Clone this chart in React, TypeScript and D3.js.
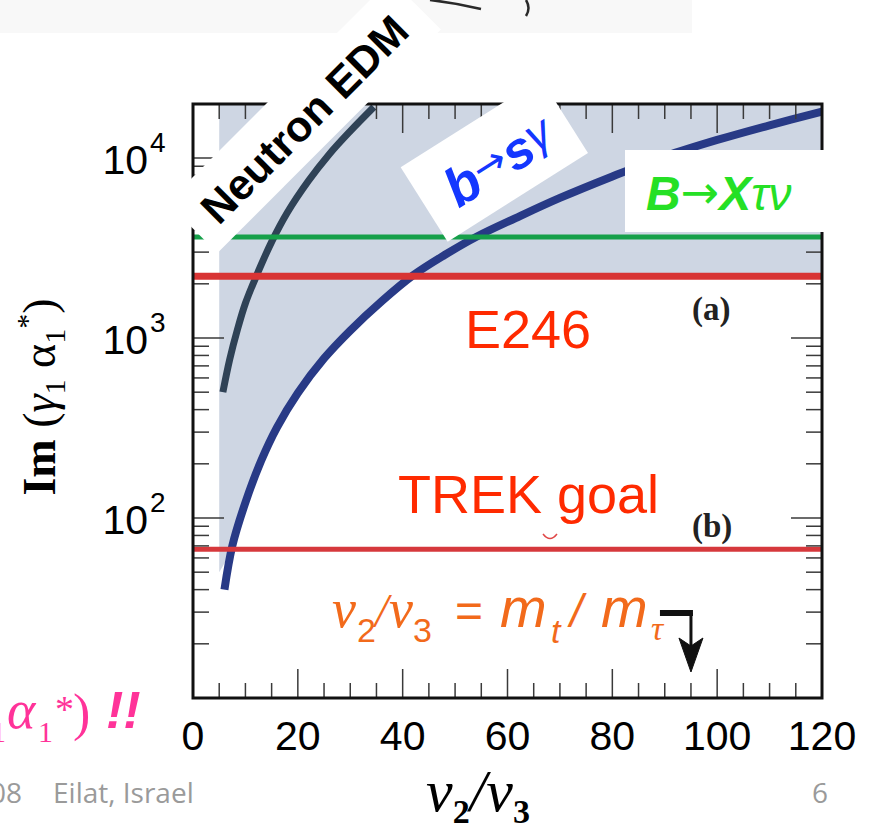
import React from 'react';
import * as d3 from 'd3';

const W = 875;
const H = 832;

// b -> s gamma constraint curve
const bsgX = [6, 7.5, 10, 13, 16, 20, 25, 30, 36, 42, 48, 54, 62, 70, 80, 90, 100, 110, 120];
const bsgV = [40, 70, 122, 208, 318, 495, 770, 1100, 1600, 2230, 2890, 3640, 4700, 6000, 7900, 10200, 12600, 15200, 18100];

// neutron EDM constraint curve
const nedmX = [5.7, 7, 8.5, 10, 12.2, 15, 18, 22, 26, 30, 34.5];
const nedmV = [500, 760, 1120, 1560, 2250, 3420, 4980, 7450, 10500, 14100, 19200];

// horizontal limits
const bxtnLimit = 3640;
const e246Limit = 2200;
const trekGoal = 67;

// allowed-region shading
const shadeStart = 5;
const shadeFloor = 50;

// v2/v3 = m_t / m_tau marker
const arrowAt = 95;

const xTicks = d3.range(0, 121, 5);
const xLabels = [0, 20, 40, 60, 80, 100, 120];
const yExponents = [2, 3, 4];
const yDecades = [10, 100, 1000, 10000];

const SANS = '"Liberation Sans", Arial, Helvetica, sans-serif';
const SERIF = '"Liberation Serif", "Times New Roman", serif';
const ARROW = '"DejaVu Sans", sans-serif';

export default function App() {
  const left = 193, right = 822, top = 104, bottom = 698;
  const x = d3.scaleLinear().domain([0, 120]).range([left, right]);
  const y = d3.scaleLog().domain([10, Math.pow(10, 4.3)]).range([bottom, top]);

  const line = d3
    .line<[number, number]>()
    .x((d) => x(d[0]))
    .y((d) => y(d[1]))
    .curve(d3.curveCatmullRom.alpha(0.5));

  const bsgPts: [number, number][] = bsgX.map((v, i) => [v, bsgV[i]]);
  const nedmPts: [number, number][] = nedmX.map((v, i) => [v, nedmV[i]]);

  const shadePts: [number, number][] = [
    [shadeStart, shadeFloor],
    ...bsgPts.filter((p) => p[0] >= 7.5).map((p) => [p[0], Math.min(p[1], e246Limit)] as [number, number]),
  ];
  const shadeArea = d3
    .area<[number, number]>()
    .x((d) => x(d[0]))
    .y0(top)
    .y1((d) => y(d[1]))
    .curve(d3.curveMonotoneX);

  const minorY = yDecades
    .flatMap((d) => [2, 3, 4, 5, 6, 7, 8, 9].map((k) => k * d))
    .filter((v) => v < y.domain()[1]);
  const majorY = yExponents.map((e) => Math.pow(10, e));

  const tickStroke = '#3a3a3a';

  const nedmAngle = -45;
  const bsgAngle = -32.3;
  const ax = x(arrowAt);

  return (
    <svg width={W} height={H} style={{ position: 'absolute', left: 0, top: 0, background: '#fff' }}>
      <defs>
        <clipPath id="plotClip">
          <rect x={left} y={top} width={right - left} height={bottom - top} />
        </clipPath>
      </defs>

      {/* faint slide strip at the top */}
      <rect x={0} y={0} width={692} height={33} fill="#f8f8f8" />
      <path d="M430,0 Q456,3 481,9" fill="none" stroke="#2a2a2a" strokeWidth={2.5} />
      <path d="M526,0 Q531,8 526,16" fill="none" stroke="#2a2a2a" strokeWidth={2.5} />

      {/* allowed region, constraint curves and limits */}
      <g clipPath="url(#plotClip)">
        <path d={shadeArea(shadePts) || ''} fill="#ced6e3" />
        <path d={line(nedmPts) || ''} fill="none" stroke="#2f4256" strokeWidth={7} />
        <path d={line(bsgPts) || ''} fill="none" stroke="#283a86" strokeWidth={8} />
        <line x1={left} x2={right} y1={y(bxtnLimit)} y2={y(bxtnLimit)} stroke="#16a04a" strokeWidth={5} />
        <line x1={left} x2={right} y1={y(e246Limit)} y2={y(e246Limit)} stroke="#d83434" strokeWidth={7} />
        <line x1={left} x2={right} y1={y(trekGoal)} y2={y(trekGoal)} stroke="#d6383c" strokeWidth={5} />
      </g>

      {/* ticks */}
      <g stroke={tickStroke} strokeWidth={1.5}>
        {xTicks.map((t) => {
          const len = t % 20 === 0 ? 29 : 15;
          return (
            <g key={'xt' + t}>
              <line x1={x(t)} x2={x(t)} y1={bottom} y2={bottom - len} />
              <line x1={x(t)} x2={x(t)} y1={top} y2={top + len} />
            </g>
          );
        })}
        {minorY.map((v) => (
          <g key={'ym' + v}>
            <line x1={left} x2={left + 16} y1={y(v)} y2={y(v)} />
            <line x1={right} x2={right - 16} y1={y(v)} y2={y(v)} />
          </g>
        ))}
        {majorY.map((v) => (
          <g key={'yM' + v}>
            <line x1={left} x2={left + 31} y1={y(v)} y2={y(v)} />
            <line x1={right} x2={right - 31} y1={y(v)} y2={y(v)} />
          </g>
        ))}
      </g>

      {/* frame */}
      <rect x={left} y={top} width={right - left} height={bottom - top} fill="none" stroke="#111" strokeWidth={3} />

      {/* Neutron EDM label */}
      <g transform={`translate(315,130) rotate(${nedmAngle})`}>
        <rect x={-156} y={-53} width={316} height={71} fill="#fff" />
        <text x={0} y={0} textAnchor="middle" fontFamily={SANS} fontWeight="bold" fontSize={43} fill="#000">
          Neutron EDM
        </text>
      </g>

      {/* b -> s gamma label */}
      <g transform={`translate(512,175) rotate(${bsgAngle})`}>
        <rect x={-90} y={-66} width={166} height={88} fill="#fff" />
        <text x={-4} y={0} textAnchor="middle" fontFamily={SANS} fill="#1437ff">
          <tspan fontWeight="bold" fontStyle="italic" fontSize={54}>b</tspan>
          <tspan fontFamily={ARROW} fontSize={40} dy={-8}>→</tspan>
          <tspan fontWeight="bold" fontStyle="italic" fontSize={52} dy={8}>s</tspan>
          <tspan fontStyle="italic" fontSize={46} dy={-6}>γ</tspan>
        </text>
      </g>

      {/* B -> X tau nu label */}
      <rect x={625} y={150} width={202} height={82} fill="#fff" />
      <text x={646} y={210} fontFamily={SANS} fill="#25e025">
        <tspan fontWeight="bold" fontStyle="italic" fontSize={48}>B</tspan>
        <tspan fontFamily={ARROW} fontSize={46} dy={-2}>→</tspan>
        <tspan fontWeight="bold" fontStyle="italic" fontSize={48} dy={2}>X</tspan>
        <tspan fontStyle="italic" fontSize={46}>τν</tspan>
      </text>

      {/* experiment labels */}
      <text x={465} y={348} fontFamily={SANS} fontSize={54} fill="#ff2a00">E246</text>
      <text x={398} y={513} fontFamily={SANS} fontSize={54} fill="#ff2a00">TREK goal</text>
      <path d="M543,534 Q550,543 557,534" fill="none" stroke="#e04848" strokeWidth={1.5} />
      <text x={692} y={320} fontFamily={SERIF} fontWeight="bold" fontSize={33} fill="#222">(a)</text>
      <text x={692} y={537} fontFamily={SERIF} fontWeight="bold" fontSize={33} fill="#222">(b)</text>

      {/* v2/v3 = m_t / m_tau */}
      <g fill="#f26a1b">
        <text x={332} y={627} fontFamily={SERIF} fontStyle="italic" fontSize={54}>v</text>
        <text x={357} y={642} fontFamily={SANS} fontSize={34}>2</text>
        <text x={375} y={627} fontFamily={SERIF} fontStyle="italic" fontSize={48}>/</text>
        <text x={389} y={627} fontFamily={SERIF} fontStyle="italic" fontSize={54}>v</text>
        <text x={413} y={642} fontFamily={SANS} fontSize={34}>3</text>
        <text x={455} y={627} fontFamily={SANS} fontSize={48}>=</text>
        <text x={500} y={627} fontFamily={SANS} fontStyle="italic" fontSize={56}>m</text>
        <text x={551} y={643} fontFamily={SANS} fontStyle="italic" fontSize={34}>t</text>
        <text x={570} y={627} fontFamily={SANS} fontStyle="italic" fontSize={46}>/</text>
        <text x={601} y={627} fontFamily={SANS} fontStyle="italic" fontSize={56}>m</text>
        <text x={651} y={640} fontFamily={SERIF} fontStyle="italic" fontSize={34}>τ</text>
      </g>
      <g fill="#111" stroke="#111">
        <line x1={ax - 31} x2={ax + 2} y1={613} y2={613} strokeWidth={6} />
        <line x1={ax} x2={ax} y1={613} y2={650} strokeWidth={3} />
        <path d={`M${ax},672 L${ax - 12},638 L${ax},646 L${ax + 12},638 Z`} strokeWidth={1} />
      </g>

      {/* y tick labels */}
      {majorY.map((v, i) => (
        <g key={'yl' + v} fontFamily={SANS} fill="#000">
          <text x={148} y={y(v) + 16} textAnchor="end" fontSize={41}>10</text>
          <text x={150} y={y(v) - 6} fontSize={28}>{yExponents[i]}</text>
        </g>
      ))}

      {/* x tick labels */}
      {xLabels.map((t) => (
        <text key={'xl' + t} x={x(t)} y={750} textAnchor="middle" fontFamily={SANS} fontSize={41} fill="#000">
          {t}
        </text>
      ))}

      {/* axis titles */}
      <text transform="translate(55,397) rotate(-90)" textAnchor="middle" fontFamily={SERIF} fontSize={46} fill="#000">
        <tspan fontWeight="bold">Im</tspan>
        <tspan> (</tspan>
        <tspan fontStyle="italic">γ</tspan>
        <tspan fontSize={30} dy={10}>1</tspan>
        <tspan dy={-10}> </tspan>
        <tspan>α</tspan>
        <tspan fontSize={30} dy={10}>1</tspan>
        <tspan fontSize={30} dy={-28}>*</tspan>
        <tspan dy={18}>)</tspan>
      </text>
      <text x={478} y={811} textAnchor="middle" fontFamily={SERIF} fill="#000">
        <tspan fontStyle="italic" fontSize={60}>v</tspan>
        <tspan fontWeight="bold" fontSize={34} dy={12}>2</tspan>
        <tspan fontStyle="italic" fontSize={60} dy={-12}>/</tspan>
        <tspan fontStyle="italic" fontSize={60}>v</tspan>
        <tspan fontWeight="bold" fontSize={34} dy={12}>3</tspan>
      </text>

      {/* slide caption fragments */}
      <g fill="#ff3399">
        <text x={-9} y={742} fontFamily={SERIF} fontSize={30}>1</text>
        <text x={7} y={728} fontFamily={SERIF} fontStyle="italic" fontSize={54}>α</text>
        <text x={38} y={742} fontFamily={SERIF} fontSize={30}>1</text>
        <text x={55} y={722} fontFamily={SERIF} fontSize={38}>*</text>
        <text x={73} y={730} fontFamily={SERIF} fontSize={52}>)</text>
        <text x={106} y={728} fontFamily={SANS} fontWeight="bold" fontStyle="italic" fontSize={52}>!!</text>
      </g>
      <g fill="#9a9a9a" fontFamily='"Open Sans", sans-serif' fontSize={28}>
        <text x={22} y={803} textAnchor="end">2008</text>
        <text x={53} y={803}>Eilat, Israel</text>
        <text x={812} y={803}>6</text>
      </g>
    </svg>
  );
}
